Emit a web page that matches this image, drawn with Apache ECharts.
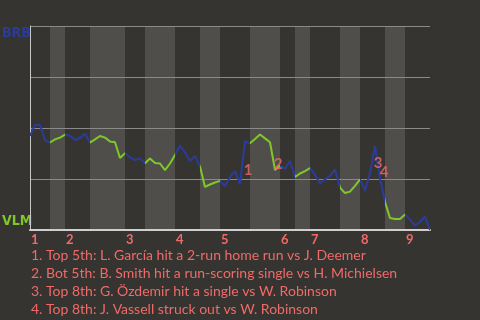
<!DOCTYPE html>
<html>
<head>
<meta charset="utf-8">
<script src="https://cdn.jsdelivr.net/npm/echarts@6/dist/echarts.min.js"></script>
<style>html,body{margin:0;padding:0;background:#353430;}#c{width:480px;height:320px;}</style>
</head>
<body>
<div id="c"></div>
<script>
// Win probability for BRB (top = BRB 100%, bottom = VLM), one point per plate appearance
const winProb = [46.1,51.5,51.5,44.1,42.9,44.4,45.3,46.8,46.2,44.1,45.1,47.3,42.8,44.4,46.1,45.3,43.4,43.0,35.3,37.7,
  35.6,34.3,35.1,32.7,35.0,32.8,32.6,29.4,32.6,36.8,41.4,38.0,33.8,36.3,31.1,21.1,22.3,23.3,24.1,21.6,
  26.0,28.9,22.5,43.6,42.5,44.6,46.8,44.9,43.0,29.4,31.5,30.0,33.8,26.0,27.7,28.9,30.4,27.0,22.9,24.8,
  26.5,29.7,20.8,18.1,18.8,21.6,24.8,19.4,27.9,41.2,25.5,13.7,5.9,5.4,5.4,7.6,5.1,2.2,3.9,6.6,0];
// plate-appearance index where each half inning starts (top 1st ... top 9th), last = end
const halfInningStarts = [0,4,7,12,19,23,29,34,38,44,50,53,56,62,66,71,75,80];
const inningLabels = ['1','2','3','4','5','6','7','8','9'];
const teams = ['BRB','VLM'];
// key events: label, PA position, win prob position of label
const eventLabels = ['1','2','3','4'];
const eventX = [43.6,49.6,69.6,70.8];
const eventY = [29.4,32.4,32.8,28.4];
const eventNotes = [
  '1. Top 5th: L. García hit a 2-run home run vs J. Deemer',
  '2. Bot 5th: B. Smith hit a run-scoring single vs H. Michielsen',
  '3. Top 8th: G. Özdemir hit a single vs W. Robinson',
  '4. Top 8th: J. Vassell struck out vs W. Robinson'
];

const BLUE = '#2b3b9c', GREEN = '#80c828', SALMON = '#f06a68';

const bands = [];
const pieces = [];
for (let k = 0; k < halfInningStarts.length - 1; k++) {
  const a = halfInningStarts[k], b = halfInningStarts[k + 1];
  const bottom = k % 2 === 1;
  if (bottom) bands.push([{xAxis: a}, {xAxis: b}]);
  const p = {gte: a, color: bottom ? GREEN : BLUE};
  if (k < halfInningStarts.length - 2) p.lt = b; else p.lte = b;
  pieces.push(p);
}
const inningStartIdx = [];
for (let k = 0; k < inningLabels.length; k++) inningStartIdx.push(halfInningStarts[2 * k]);
const lineData = winProb.map((v, i) => [i, v]);
const evData = eventLabels.map((l, i) => ({value: [eventX[i], eventY[i]], name: l}));

const chart = echarts.init(document.getElementById('c'));
chart.setOption({
  backgroundColor: '#353430',
  animation: false,
  grid: {left: 30, right: 50, top: 26, bottom: 90},
  xAxis: {
    type: 'value', min: 0, max: 80, z: 2,
    splitLine: {show: false},
    axisTick: {show: false},
    axisLine: {show: true, lineStyle: {color: '#cfcfcf', width: 2}},
    axisLabel: {
      customValues: inningStartIdx,
      formatter: v => inningLabels[inningStartIdx.indexOf(v)] || '',
      align: 'left', color: SALMON, fontSize: 13, fontWeight: 'bold',
      fontFamily: 'Lato', margin: 3, padding: [0, 0, 0, 1]
    }
  },
  yAxis: {
    type: 'value', min: 0, max: 100, interval: 25, z: 2,
    axisLabel: {show: false},
    axisTick: {show: false},
    axisLine: {show: true, lineStyle: {color: '#c8c8c8', width: 1}},
    splitLine: {lineStyle: {color: '#8a8a8a', width: 1}}
  },
  visualMap: {type: 'piecewise', show: false, dimension: 0, seriesIndex: 1, pieces: pieces},
  series: [
    {type: 'line', data: [], z: 1, silent: true,
      markArea: {silent: true, itemStyle: {color: '#4f4e4b'}, data: bands}},
    {type: 'line', data: lineData, z: 3, symbol: 'none', lineStyle: {width: 2}},
    {type: 'scatter', data: evData, z: 4, symbolSize: 0,
      label: {show: true, position: 'inside', formatter: p => p.name, color: SALMON,
        fontSize: 15, fontWeight: 'bold', fontFamily: 'Lato'}}
  ],
  graphic: [
    {type: 'text', left: 2, top: 26, style: {text: teams[0], fill: BLUE, font: 'bold 14px "Liberation Sans Narrow", "DejaVu Sans Condensed"'}},
    {type: 'text', left: 2, top: 214, style: {text: teams[1], fill: GREEN, font: 'bold 14px "Liberation Sans Narrow", "DejaVu Sans Condensed"'}},
    {type: 'text', left: 31, top: 246, style: {text: eventNotes.join('\n'), fill: SALMON, font: '14px Lato', lineHeight: 18}}
  ]
});
</script>
</body>
</html>
